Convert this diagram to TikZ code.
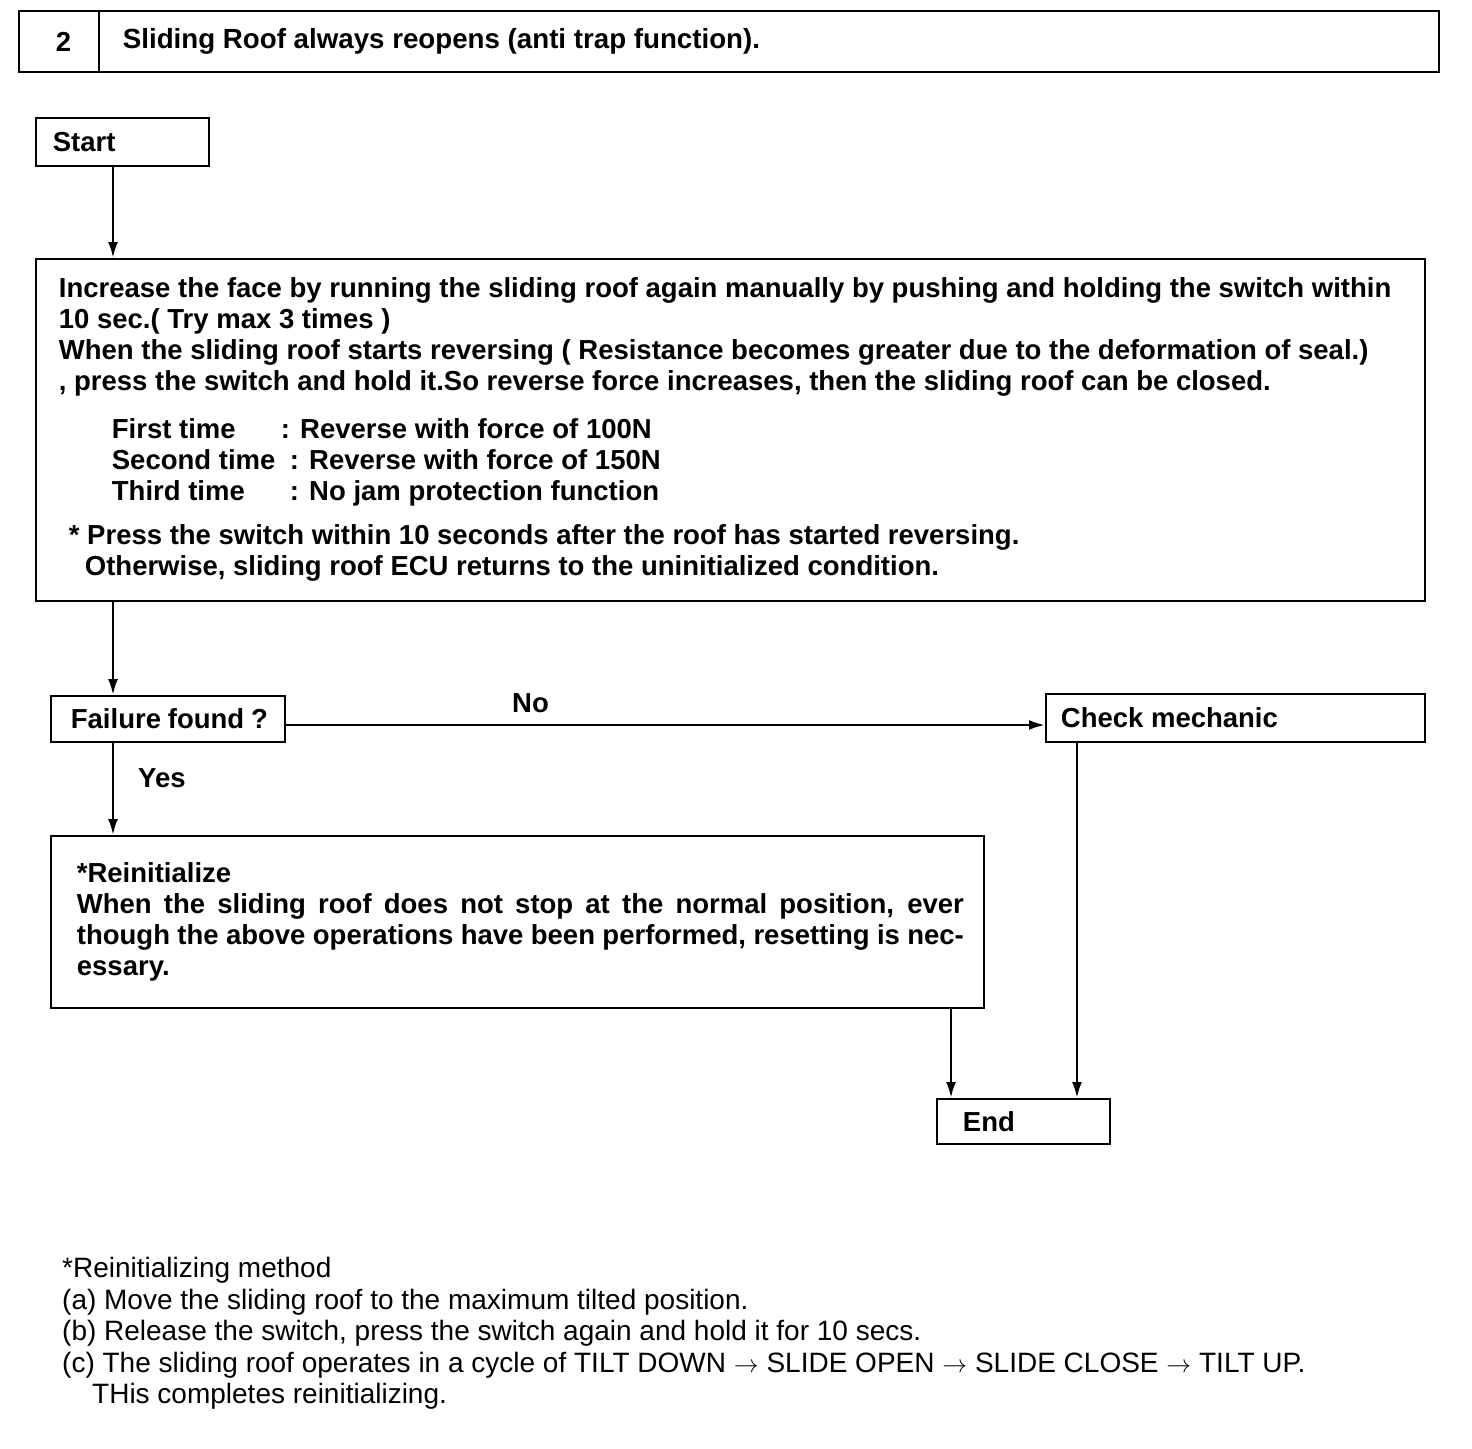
\documentclass[tikz,border=0pt]{standalone}
\usepackage{fontspec}
\setmainfont{Liberation Sans}
\usepackage{tikz}
\usetikzlibrary{arrows.meta, positioning}
\newcommand{\boldtext}{\fontsize{27.5}{31}\bfseries\selectfont}
\newcommand{\notetext}{\fontsize{28}{31.5}\selectfont}

\begin{document}
\begin{tikzpicture}[x=1pt, y=-1pt,
  box/.style={draw, line width=1.8pt, anchor=north west, inner ysep=0pt, align=left, font=\boldtext,
    execute at begin node={\spaceskip=0pt\xspaceskip=0pt}},
  flow/.style={-{Latex[length=16pt,width=10pt]}, line width=2.6pt},
  tag/.style={font=\boldtext, inner sep=0pt}]
  \useasboundingbox (0,0) rectangle (1472,1448);
  % header
  \node[box, minimum height=61pt, text width=12pt, inner xsep=34pt] (num) at (18,10) {\hspace*{3pt}2};
  \node[box, minimum height=61pt, text width=1292pt, inner xsep=24pt,
    font=\fontsize{27.7}{31}\bfseries\selectfont] (title) at (98,10)
    {Sliding Roof always reopens (anti trap function).};
  % flow boxes
  \node[box, minimum height=48pt, text width=139pt, inner xsep=17pt] (start) at (35,117) {Start};
  \node[box, minimum height=342pt, text width=1343pt, inner xsep=23pt] (main) at (35,258)
    {Increase the face by running the sliding roof again manually by pushing and holding the switch within\\
     10 sec.( Try max 3 times )\\
     When the sliding roof starts reversing ( Resistance becomes greater due to the deformation of seal.)\\
     , press the switch and hold it.So reverse force increases, then the sliding roof can be closed.\\[17pt]
     \hspace*{53pt}\makebox[169pt][l]{First time}: Reverse with force of 100N\\
     \hspace*{53pt}\makebox[178pt][l]{Second time}: Reverse with force of 150N\\
     \hspace*{53pt}\makebox[178pt][l]{Third time}: No jam protection function\\[13pt]
     \hspace*{10pt}* Press the switch within 10 seconds after the roof has started reversing.\\
     \hspace*{26pt}Otherwise, sliding roof ECU returns to the uninitialized condition.};
  \node[box, minimum height=46pt, text width=200pt, inner xsep=17pt] (fail) at (50,695) {\hspace*{3pt}Failure found ?};
  \node[box, minimum height=48pt, text width=349pt, inner xsep=15pt] (check) at (1045,693) {Check mechanic};
  \node[box, minimum height=172pt, text width=893pt, inner xsep=20pt] (reinit) at (50,835)
    {\hspace*{6pt}*Reinitialize\\
     \hspace*{6pt}\makebox[887pt][s]{When the sliding roof does not stop at the normal position, ever}\\
     \hspace*{6pt}\makebox[887pt][s]{though the above operations have been performed, resetting is nec-}\\
     \hspace*{6pt}essary.\\[14pt]};
  \node[box, minimum height=45pt, text width=121pt, inner xsep=26pt] (end) at (936,1098) {End};
  % connectors
  \coordinate (col) at (113,0);
  \coordinate (noline) at (0,725);
  \coordinate (endl) at (951,0);
  \coordinate (endr) at (1077,0);
  \draw[flow] (start.south -| col) -- (main.north -| col);
  \draw[flow] (main.south -| col) -- (fail.north -| col);
  \draw[flow] (fail.south -| col) -- (reinit.north -| col);
  \draw[flow] (fail.east |- noline) -- (check.west |- noline);
  \draw[flow] (reinit.south -| endl) -- (end.north -| endl);
  \draw[flow] (check.south -| endr) -- (end.north -| endr);
  \node[tag, anchor=west] (yes) at (138,778) {Yes};
  \node[tag, anchor=west] (no) at (512,703) {No};
  % note below
  \node[anchor=north west, inner sep=0pt, align=left, font=\notetext,
    execute at begin node={\spaceskip=0pt\xspaceskip=0pt}] (note) at (62,1257)
    {*Reinitializing method\\
     (a) Move the sliding roof to the maximum tilted position.\\
     (b) Release the switch, press the switch again and hold it for 10 secs.\\
     (c) The sliding roof operates in a cycle of TILT DOWN $\rightarrow$ SLIDE OPEN $\rightarrow$ SLIDE CLOSE $\rightarrow$ TILT UP.\\
     \hspace*{30pt}THis completes reinitializing.};
\end{tikzpicture}
\end{document}
